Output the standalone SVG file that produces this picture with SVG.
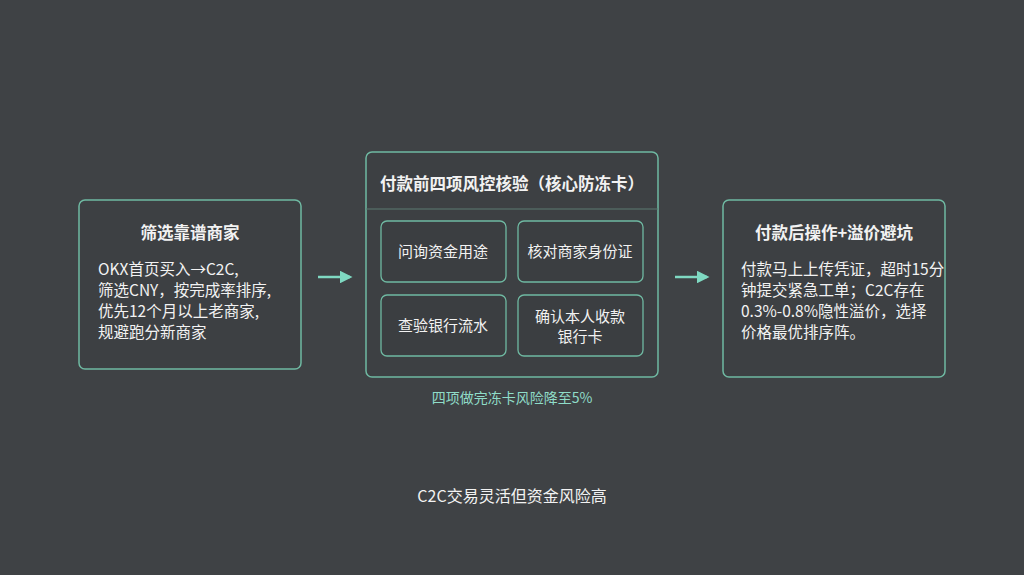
<svg xmlns="http://www.w3.org/2000/svg" width="1024" height="575" viewBox="0 0 1024 575">
<defs>
<style>
.box{fill:#3d4043;stroke:#6fb9a2;stroke-width:1.5}
.in{fill:#3b3e41;stroke:#6fb9a2;stroke-width:1.3}
text{font-family:"Noto Sans CJK SC","Noto Sans",sans-serif;fill:#f2f2f2}
.t{font-size:16.5px;font-weight:bold}
.b{font-size:15.5px}
.s{font-size:15px}
.c{text-anchor:middle}
.arr{stroke:#7fd9c2;stroke-width:2.5;fill:none}
</style>
<marker id="ah" viewBox="0 0 10 10" refX="8" refY="5" markerWidth="5" markerHeight="5" orient="auto"><path d="M0,0L10,5L0,10z" fill="#7fd9c2"/></marker>
</defs>
<rect width="1024" height="575" fill="#3f4245"/>
<g id="n1">
<rect class="box" x="79" y="200" width="222" height="169" rx="6"/>
<text class="t c" x="190" y="239">筛选靠谱商家</text>
<text class="b" x="98" y="275">OKX首页买入→C2C,</text>
<text class="b" x="98" y="296">筛选CNY，按完成率排序,</text>
<text class="b" x="98" y="317">优先12个月以上老商家,</text>
<text class="b" x="98" y="338">规避跑分新商家</text>
</g>
<g id="n2">
<rect class="box" x="366" y="152" width="292" height="225" rx="6"/>
<line x1="366" y1="209" x2="658" y2="209" stroke="#5d7a72" stroke-width="1"/>
<text class="t c" x="512" y="190">付款前四项风控核验（核心防冻卡）</text>
<rect class="in" x="381" y="221" width="125" height="61" rx="6"/>
<text class="s c" x="443" y="257">问询资金用途</text>
<rect class="in" x="518" y="221" width="125" height="61" rx="6"/>
<text class="s c" x="580" y="257">核对商家身份证</text>
<rect class="in" x="381" y="295" width="125" height="61" rx="6"/>
<text class="s c" x="443" y="331">查验银行流水</text>
<rect class="in" x="518" y="295" width="125" height="61" rx="6"/>
<text class="s c" x="580" y="322">确认本人收款</text>
<text class="s c" x="580" y="342">银行卡</text>
<text class="c" x="512" y="403" style="fill:#8fdcc8;font-size:14px">四项做完冻卡风险降至5%</text>
</g>
<g id="n3">
<rect class="box" x="723" y="200" width="222" height="177" rx="6"/>
<text class="t c" x="834" y="239">付款后操作+溢价避坑</text>
<text class="b" x="741" y="275">付款马上上传凭证，超时15分</text>
<text class="b" x="741" y="296">钟提交紧急工单；C2C存在</text>
<text class="b" x="741" y="317">0.3%-0.8%隐性溢价，选择</text>
<text class="b" x="741" y="338">价格最优排序阵。</text>
</g>
<g id="connectors">
<line class="arr" x1="318" y1="277" x2="350" y2="277" marker-end="url(#ah)"/>
<line class="arr" x1="675" y1="277" x2="707" y2="277" marker-end="url(#ah)"/>
</g>
<text class="c" x="512" y="502" style="font-size:16px">C2C交易灵活但资金风险高</text>
</svg>
